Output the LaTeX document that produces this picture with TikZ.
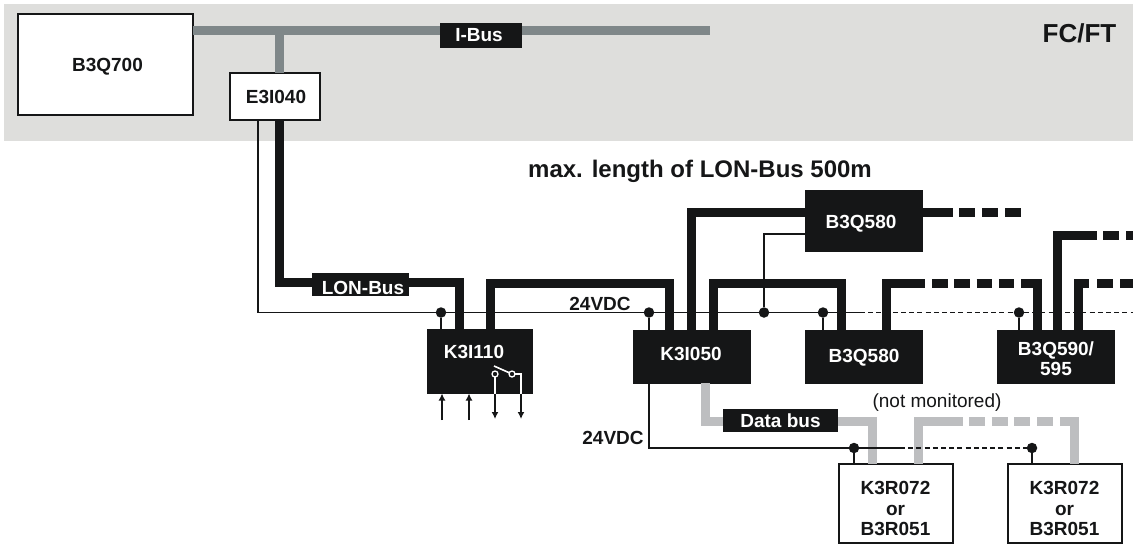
\documentclass[tikz,border=0pt]{standalone}
\usepackage{fontspec}
\setmainfont{Liberation Sans}
\usetikzlibrary{arrows.meta}
\definecolor{ink}{HTML}{151617}
\definecolor{band}{HTML}{DEDEDC}
\definecolor{ibus}{HTML}{7F8789}
\definecolor{dbus}{HTML}{BDBEC0}
\tikzset{
  x=1pt,y=-1pt,
  blackbox/.style={draw=ink,fill=ink,line width=1pt,inner sep=0pt,outer sep=0pt},
  whitebox/.style={draw=ink,fill=white,line width=2pt,inner sep=0pt,outer sep=0pt},
  boxtext/.style={inner sep=0pt,align=center,font=\fontsize{19}{20.5}\selectfont\bfseries},
  inktext/.style={boxtext,text=ink},
  whitetext/.style={boxtext,text=white},
  lon/.style={draw=ink,line width=9pt,line cap=butt,line join=miter},
  ibusline/.style={draw=ibus,line width=9pt},
  databus/.style={draw=dbus,line width=9pt,line join=miter},
  supply/.style={draw=ink,line width=1.8pt,line join=miter},
  supplydash/.style={supply,dash pattern=on 5pt off 3.2pt},
  londash/.style={lon,dash pattern=on 16pt off 7pt},
  lonrow/.style={lon,dash pattern=on 15.5pt off 6.8pt},
  dbusdash/.style={databus,dash pattern=on 16pt off 6.7pt},
  junction/.style={circle,fill=ink,draw=none,minimum size=10.5pt,inner sep=0pt,outer sep=0pt},
  contact/.style={circle,fill=ink,draw=white,line width=1.3pt,minimum size=6pt,inner sep=0pt,outer sep=0pt},
  whiteline/.style={draw=white,line width=1.6pt},
  signal/.style={draw=ink,line width=1.6pt,-{Latex[length=7pt,width=7pt]}},
  labelbox/.style={fill=ink,inner sep=0pt,outer sep=0pt},
}
\begin{document}
\begin{tikzpicture}
\useasboundingbox (0,0) rectangle (1133,544);
\fill[band] (4,4) rectangle (1133,141);

% boxes
\node[whitebox,minimum width=175pt,minimum height=101pt] (b3q700) at (105,64.5) {};
\node[whitebox,minimum width=90pt,minimum height=47pt] (e3i040) at (274.5,96) {};
\node[blackbox,minimum width=105pt,minimum height=64pt] (k3i110) at (479.5,361.5) {};
\node[blackbox,minimum width=117pt,minimum height=53pt] (k3i050) at (691.5,356.5) {};
\node[blackbox,minimum width=117pt,minimum height=53pt] (b3q580b) at (863.5,356.5) {};
\node[blackbox,minimum width=117pt,minimum height=61pt] (b3q580a) at (863.5,221) {};
\node[blackbox,minimum width=117pt,minimum height=53pt] (b3q590) at (1055.5,356.5) {};
\node[whitebox,minimum width=114pt,minimum height=79pt] (k3r1) at (895.5,503) {};
\node[whitebox,minimum width=114pt,minimum height=79pt] (k3r2) at (1064.5,503) {};

% routing levels and free ends
\coordinate (ibusend) at (710,30);
\coordinate (ibustee) at (279,30);
\coordinate (lonA) at (360,282);
\coordinate (lonB) at (580,283);
\coordinate (lonC) at (780,283);
\coordinate (lonD) at (925,283);
\coordinate (lonDa) at (932,283);
\coordinate (lonDe) at (1021,283);
\coordinate (lonE) at (760,212);
\coordinate (lonF) at (953,212);
\coordinate (lonFa) at (959,212);
\coordinate (lonFe) at (1022,212);
\coordinate (lonG) at (1097,235);
\coordinate (lonGa) at (1103,235);
\coordinate (lonGe) at (1133,235);
\coordinate (lonH) at (1089,283);
\coordinate (lonHa) at (1097,283);
\coordinate (lonHe) at (1133,283);
\coordinate (supA) at (764,234);
\coordinate (sup0) at (300,312.5);
\coordinate (supE) at (860,312.5);
\coordinate (supF) at (1133,312.5);
\coordinate (sup2) at (750,448);
\coordinate (sup2E) at (900,448);
\coordinate (dbA) at (780,421);
\coordinate (dbB) at (963,421);
\coordinate (dbBa) at (969,421);
\coordinate (dbBe) at (1053,421);
\coordinate (dbC) at (1060,421);
\coordinate (in1) at (442,420);
\coordinate (in2) at (469,420);
\coordinate (out1) at (495,419);
\coordinate (out2) at (521,419);
\coordinate (swA) at (495,374);
\coordinate (swB) at (512,374);
\coordinate (swC) at (521,374);
\coordinate (swD) at (494,366);

% I-Bus
\draw[ibusline] (b3q700.east |- ibusend) -- (ibusend);
\draw[ibusline] (ibustee) -- (e3i040.north -| ibustee);

% LON-Bus
\draw[lon] ([xshift=4.5pt]e3i040.south) |- (lonA) -| ([xshift=-20.5pt]k3i110.north);
\draw[lon] ([xshift=10.5pt]k3i110.north) |- (lonB) -| ([xshift=-22.5pt]k3i050.north);
\draw[lon] (k3i050.north) |- (b3q580a.west |- lonE);
\draw[lon] ([xshift=21.5pt]k3i050.north) |- (lonC) -| ([xshift=-22.5pt]b3q580b.north);
\draw[lon] ([xshift=22.5pt]b3q580b.north) |- (lonD);
\draw[lonrow] (lonDa) -- (lonDe);
\draw[lon] (lonDe) -| ([xshift=-18.5pt]b3q590.north);
\draw[lon] (b3q580a.east |- lonE) -- (lonF);
\draw[londash] (lonFa) -- (lonFe);
\draw[lon] ([xshift=1.5pt]b3q590.north) |- (lonG);
\draw[londash] (lonGa) -- (lonGe);
\draw[lon] ([xshift=22.5pt]b3q590.north) |- (lonH);
\draw[londash] (lonHa) -- (lonHe);

% data bus
\draw[databus] ([xshift=14pt]k3i050.south) |- (dbA) -| ([xshift=-23.5pt]k3r1.north);
\draw[databus] ([xshift=22.5pt]k3r1.north) |- (dbB);
\draw[dbusdash] (dbBa) -- (dbBe);
\draw[databus] (dbC) -| ([xshift=9.5pt]k3r2.north);

% supply
\node[junction] (j1) at (441,312.5) {};
\node[junction] (j2) at (649,312.5) {};
\node[junction] (j3) at (764,312.5) {};
\node[junction] (j4) at (823,312.5) {};
\node[junction] (j5) at (1019,312.5) {};
\node[junction] (j6) at (854,448) {};
\node[junction] (j7) at (1032,448) {};
\draw[supply] ([xshift=-16.5pt]e3i040.south) |- (sup0) -- (supE);
\draw[supplydash] (supE) -- (supF);
\draw[supply] (j1) -- (k3i110.north -| j1);
\draw[supply] (j2) -- (k3i050.north -| j2);
\draw[supply] (j4) -- (b3q580b.north -| j4);
\draw[supply] (j5) -- (b3q590.north -| j5);
\draw[supply] (j3) -- (supA) -- (b3q580a.west |- supA);
\draw[supply] ([xshift=-42.5pt]k3i050.south) |- (sup2) -- (sup2E);
\draw[supplydash] (sup2E) -- (j7);
\draw[supply] (j6) -- (k3r1.north -| j6);
\draw[supply] (j7) -- (k3r2.north -| j7);

% bus labels
\node[labelbox,minimum width=97pt,minimum height=23pt] (lonlabel) at (360.5,284.5) {};
\node[whitetext] (lontext) at (363,288) {LON-Bus};
\node[labelbox,minimum width=82pt,minimum height=25pt] (ibuslabel) at (481,35.5) {};
\node[whitetext] (ibustext) at (479,35.5) {I-Bus};
\node[labelbox,minimum width=115pt,minimum height=23pt] (dblabel) at (780.5,420.5) {};
\node[whitetext] (dbtext) at (780.5,421) {Data bus};

% switch inside K3I110
\draw[whiteline] (swA) -- (k3i110.south -| swA);
\draw[whiteline] (swB) -- (swC) -- (k3i110.south -| swC);
\draw[whiteline] (swD) -- (swB);
\node[contact] (cA) at (swA) {};
\node[contact] (cB) at (swB) {};

% signal arrows
\draw[signal] (in1) -- (k3i110.south -| in1);
\draw[signal] (in2) -- (k3i110.south -| in2);
\draw[signal] (k3i110.south -| out1) -- (out1);
\draw[signal] (k3i110.south -| out2) -- (out2);

% texts
\node[inktext] (b3q700t) at (107.5,67) {B3Q700};
\node[inktext] (e3i040t) at (276,96.5) {E3I040};
\node[whitetext] (k3i110t) at (474,352) {K3I110};
\node[whitetext] (k3i050t) at (691,354) {K3I050};
\node[whitetext] (b3q580bt) at (864,358) {B3Q580};
\node[whitetext] (b3q580at) at (861,224) {B3Q580};
\node[whitetext] (b3q590t) at (1056,358.5) {B3Q590/\\595};
\node[inktext] (k3r1t) at (895.5,508.5) {K3R072\\or\\B3R051};
\node[inktext] (k3r2t) at (1064.5,508.5) {K3R072\\or\\B3R051};
\node[inktext,font=\fontsize{26}{28}\selectfont\bfseries] (fcft) at (1079.5,33) {FC/FT};
\node[inktext,font=\fontsize{24}{26}\selectfont\bfseries] (maxlen) at (700,171) {max. length of LON-Bus 500m};
\node[inktext] (v24a) at (600,304) {24VDC};
\node[inktext] (v24b) at (613,438) {24VDC};
\node[inktext,font=\fontsize{19}{21}\selectfont] (notmon) at (937,403) {(not monitored)};
\end{tikzpicture}
\end{document}
